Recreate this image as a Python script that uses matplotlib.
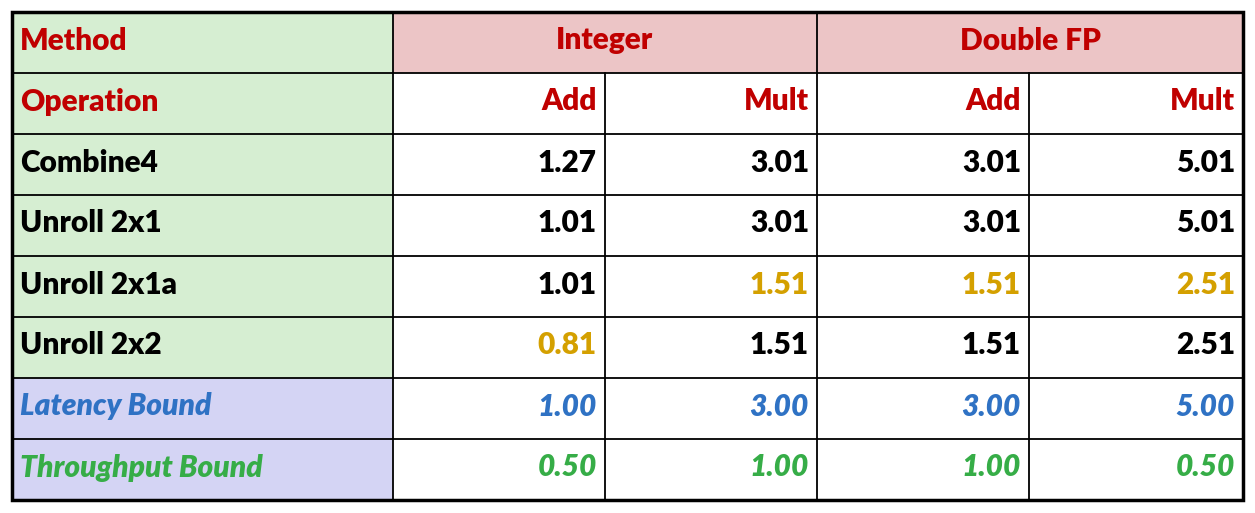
import matplotlib.pyplot as plt
from matplotlib.patches import Rectangle

plt.rcParams['font.family'] = ['Lato', 'DejaVu Sans']

methods = ["Combine4", "Unroll 2x1", "Unroll 2x1a", "Unroll 2x2"]
values = [
    ["1.27", "3.01", "3.01", "5.01"],
    ["1.01", "3.01", "3.01", "5.01"],
    ["1.01", "1.51", "1.51", "2.51"],
    ["0.81", "1.51", "1.51", "2.51"],
]
highlight = [
    [0, 0, 0, 0],
    [0, 0, 0, 0],
    [0, 1, 1, 1],
    [1, 0, 0, 0],
]
latency = ["1.00", "3.00", "3.00", "5.00"]
throughput = ["0.50", "1.00", "1.00", "0.50"]
groups = ["Integer", "Double FP"]
ops = ["Add", "Mult", "Add", "Mult"]

RED = "#c00000"
GOLD = "#d4a000"
BLUE = "#2f72c4"
GREEN = "#36ad47"
BLACK = "#000000"

W, H = 1255, 513
xs = [12, 393, 605, 817, 1029, 1243]
ys = [12 + 61 * i for i in range(9)]
FS = 21.5

fig = plt.figure(figsize=(W / 100, H / 100), dpi=100)
ax = fig.add_axes([0, 0, 1, 1])
ax.set_xlim(0, W)
ax.set_ylim(H, 0)
ax.axis("off")


def cell(c0, c1, r, color):
    ax.add_patch(Rectangle((xs[c0], ys[r]), xs[c1] - xs[c0], ys[r + 1] - ys[r],
                           facecolor=color, edgecolor="none"))


for r in range(6):
    cell(0, 1, r, "#d6eed2")
for r in (6, 7):
    cell(0, 1, r, "#d4d4f4")
cell(1, 5, 0, "#ecc5c6")


def txt(x, y, s, color, ha, italic=False):
    ax.text(x, y, s, color=color, ha=ha, va="center", fontsize=FS,
            fontweight="heavy", style="italic" if italic else "normal")


def mid(r):
    return (ys[r] + ys[r + 1]) / 2 - 2


txt(xs[0] + 8, mid(0), "Method", RED, "left")
txt((xs[1] + xs[3]) / 2, mid(0), groups[0], RED, "center")
txt((xs[3] + xs[5]) / 2, mid(0), groups[1], RED, "center")
txt(xs[0] + 8, mid(1), "Operation", RED, "left")
for j, op in enumerate(ops):
    txt(xs[j + 2] - 8, mid(1), op, RED, "right")

for i, m in enumerate(methods):
    txt(xs[0] + 8, mid(i + 2), m, BLACK, "left")
    for j, v in enumerate(values[i]):
        txt(xs[j + 2] - 8, mid(i + 2), v, GOLD if highlight[i][j] else BLACK, "right")

txt(xs[0] + 8, mid(6), "Latency Bound", BLUE, "left", True)
txt(xs[0] + 8, mid(7), "Throughput Bound", GREEN, "left", True)
for j in range(4):
    txt(xs[j + 2] - 8, mid(6), latency[j], BLUE, "right", True)
    txt(xs[j + 2] - 8, mid(7), throughput[j], GREEN, "right", True)

# grid lines
lw = 1.3
for r in range(1, 8):
    ax.plot([xs[0], xs[5]], [ys[r], ys[r]], color="black", lw=lw)
for c in range(1, 5):
    y0 = ys[0] if c in (1, 3) else ys[1]
    ax.plot([xs[c], xs[c]], [y0, ys[8]], color="black", lw=lw)
ax.add_patch(Rectangle((xs[0], ys[0]), xs[5] - xs[0], ys[8] - ys[0],
                       facecolor="none", edgecolor="black", lw=2.5))

fig.savefig("out.png", dpi=100)
